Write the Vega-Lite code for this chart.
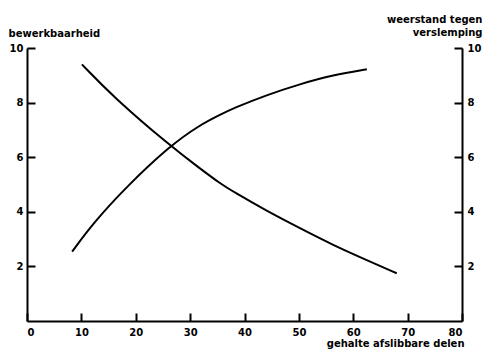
{
  "$schema": "https://vega.github.io/schema/vega-lite/v6.json",
  "width": 435,
  "height": 273,
  "autosize": "none",
  "padding": {"left": 27, "top": 48, "right": 22, "bottom": 33},
  "background": "white",
  "config": {
    "view": {"stroke": null},
    "font": "DejaVu Sans",
    "axis": {
      "domain": true,
      "domainColor": "black",
      "domainWidth": 2,
      "ticks": false,
      "tickSize": 0,
      "grid": true,
      "gridColor": "black",
      "gridOpacity": 1,
      "gridWidth": 2,
      "labelColor": "black",
      "labelFont": "DejaVu Sans",
      "labelFontWeight": "bold",
      "labelFontSize": 10,
      "titleColor": "black",
      "titleFont": "DejaVu Sans",
      "titleFontWeight": "bold",
      "titleFontSize": 10
    }
  },
  "data": {
    "values": [
      {"serie": "bewerkbaarheid", "x": 10.1, "y": 9.40},
      {"serie": "bewerkbaarheid", "x": 15.8, "y": 8.22},
      {"serie": "bewerkbaarheid", "x": 26.3, "y": 6.42},
      {"serie": "bewerkbaarheid", "x": 31.8, "y": 5.59},
      {"serie": "bewerkbaarheid", "x": 35.5, "y": 5.04},
      {"serie": "bewerkbaarheid", "x": 37.9, "y": 4.74},
      {"serie": "bewerkbaarheid", "x": 44.1, "y": 4.03},
      {"serie": "bewerkbaarheid", "x": 50.2, "y": 3.40},
      {"serie": "bewerkbaarheid", "x": 56.3, "y": 2.78},
      {"serie": "bewerkbaarheid", "x": 62.5, "y": 2.23},
      {"serie": "bewerkbaarheid", "x": 68.0, "y": 1.75},
      {"serie": "weerstand", "x": 8.3, "y": 2.54},
      {"serie": "weerstand", "x": 12.2, "y": 3.59},
      {"serie": "weerstand", "x": 18.3, "y": 4.92},
      {"serie": "weerstand", "x": 26.3, "y": 6.42},
      {"serie": "weerstand", "x": 31.8, "y": 7.18},
      {"serie": "weerstand", "x": 35.5, "y": 7.55},
      {"serie": "weerstand", "x": 37.9, "y": 7.79},
      {"serie": "weerstand", "x": 44.1, "y": 8.28},
      {"serie": "weerstand", "x": 50.2, "y": 8.68},
      {"serie": "weerstand", "x": 56.3, "y": 9.01},
      {"serie": "weerstand", "x": 62.5, "y": 9.22}
    ]
  },
  "layer": [
    {
      "transform": [{"filter": "datum.serie === 'bewerkbaarheid'"}],
      "mark": {"type": "line", "color": "black", "strokeWidth": 2, "interpolate": "basis"},
      "encoding": {
        "x": {
          "field": "x", "type": "quantitative",
          "scale": {"domain": [0, 80], "nice": false},
          "axis": {
            "values": [0, 10, 20, 30, 40, 50, 60, 70, 80],
            "grid": true,
            "gridDash": [8, 1000],
            "gridDashOffset": 743,
            "labelPadding": 6,
            "title": "gehalte afslibbare delen",
            "titleAnchor": "end",
            "titleAlign": "right",
            "titleX": 437,
            "titleY": 25,
            "titleBaseline": "alphabetic"
          }
        },
        "y": {
          "field": "y", "type": "quantitative",
          "scale": {"domain": [0, 10], "nice": false},
          "axis": {
            "orient": "left",
            "values": [2, 4, 6, 8, 10],
            "grid": true,
            "gridDash": [8, 419],
            "labelPadding": 4,
            "title": "bewerkbaarheid",
            "titleAngle": 0,
            "titleAlign": "left",
            "titleX": -19,
            "titleY": -12,
            "titleBaseline": "alphabetic"
          }
        }
      }
    },
    {
      "transform": [{"filter": "datum.serie === 'weerstand'"}],
      "mark": {"type": "line", "color": "black", "strokeWidth": 2, "interpolate": "basis"},
      "encoding": {
        "x": {"field": "x", "type": "quantitative"},
        "y": {
          "field": "y", "type": "quantitative",
          "scale": {"domain": [0, 10], "nice": false},
          "axis": {
            "orient": "right",
            "values": [2, 4, 6, 8, 10],
            "grid": false,
            "labelPadding": 5,
            "title": ["weerstand tegen", "verslemping"],
            "titleAngle": 0,
            "titleAlign": "right",
            "titleX": 20,
            "titleY": -26,
            "titleLineHeight": 13,
            "titleBaseline": "alphabetic"
          }
        }
      }
    }
  ],
  "resolve": {"scale": {"y": "independent"}}
}
